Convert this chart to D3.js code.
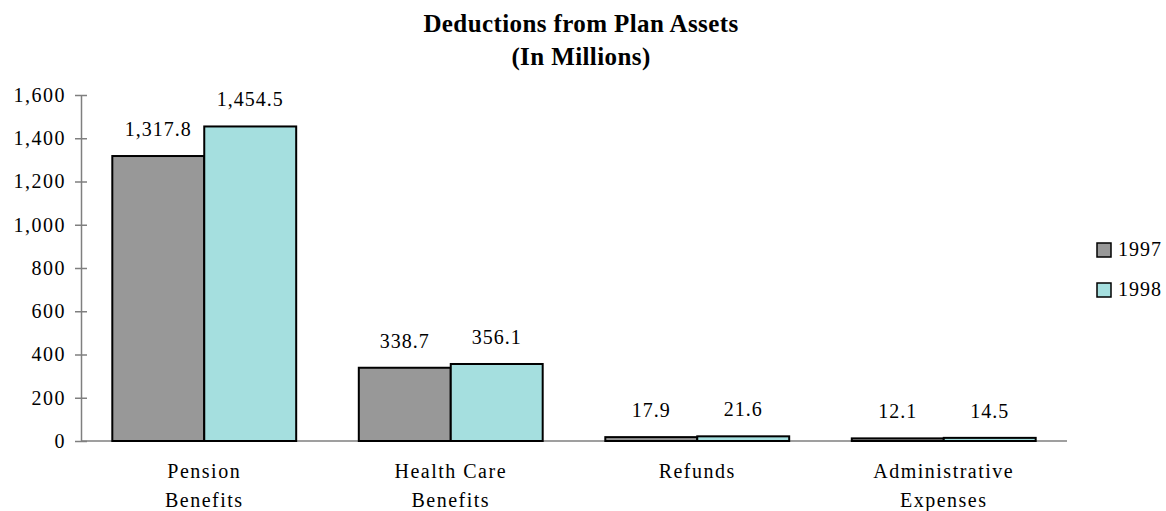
<!DOCTYPE html>
<html>
<head>
<meta charset="utf-8">
<script src="https://cdn.jsdelivr.net/npm/d3@7"></script>
<style>
  html, body { margin: 0; padding: 0; background: #ffffff; }
  svg { display: block; }
  svg text { font-family: "Liberation Serif", "Times New Roman", Times, serif; fill: #000; }
</style>
</head>
<body>
<svg id="chart" width="1166" height="511"></svg>
<script>
// Deductions from plan assets, in millions of dollars
const categories = [["Pension", "Benefits"], ["Health Care", "Benefits"], ["Refunds"], ["Administrative", "Expenses"]];
const seriesNames = ["1997", "1998"];
const values1997 = [1317.8, 338.7, 17.9, 12.1];
const values1998 = [1454.5, 356.1, 21.6, 14.5];
const valueLabels1997 = ["1,317.8", "338.7", "17.9", "12.1"];
const valueLabels1998 = ["1,454.5", "356.1", "21.6", "14.5"];
const yTicks = [0, 200, 400, 600, 800, 1000, 1200, 1400, 1600];

const serif = "'Liberation Serif', 'Times New Roman', Times, serif";
const colors = { "1997": "#989898", "1998": "#a5dfdf" };
const axisColor = "#7f7f7f";

const svg = d3.select("#chart");
const plot = { left: 81, right: 1067, top: 95, bottom: 441 };

const catKeys = categories.map((c, i) => i);
const x = d3.scaleBand().domain(catKeys).range([plot.left, plot.right]).paddingInner(0.254).paddingOuter(0.127);
const xSub = d3.scaleBand().domain(seriesNames).range([0, x.bandwidth()]);
const y = d3.scaleLinear().domain([0, 1600]).range([plot.bottom, plot.top]);

// Title
const title = svg.append("text")
  .attr("text-anchor", "middle")
  .attr("font-family", serif)
  .style("font-size", "25px").style("font-weight", "bold").style("letter-spacing", "0.4px");
title.append("tspan").attr("x", 581).attr("y", 32).text("Deductions from Plan Assets");
title.append("tspan").attr("x", 581).attr("y", 65).text("(In Millions)");

// Y axis with ticks crossing the axis line
const yAxis = d3.axisLeft(y).tickValues(yTicks).tickSizeOuter(0).tickPadding(10)
  .tickFormat(d3.format(","));
const yg = svg.append("g").attr("transform", `translate(${plot.left},0)`).call(yAxis)
  .attr("font-family", serif);
yg.select(".domain").attr("stroke", axisColor).attr("stroke-width", 1.5);
yg.selectAll(".tick line").attr("x1", -6).attr("x2", 6).attr("stroke", axisColor).attr("stroke-width", 1.5);
yg.selectAll(".tick text")
  .attr("x", -15)
  .attr("font-family", serif)
  .style("font-size", "20px").style("letter-spacing", "1.5px").attr("fill", "#000");

// X axis baseline
svg.append("line")
  .attr("x1", plot.left).attr("x2", plot.right)
  .attr("y1", y(0)).attr("y2", y(0))
  .attr("stroke", axisColor).attr("stroke-width", 1.5);

// Bars
const rows = catKeys.map(i => ({
  i,
  bars: [
    { s: "1997", v: values1997[i], label: valueLabels1997[i] },
    { s: "1998", v: values1998[i], label: valueLabels1998[i] }
  ]
}));

const groups = svg.append("g").selectAll("g.cat").data(rows).join("g")
  .attr("class", "cat")
  .attr("transform", d => `translate(${x(d.i)},0)`);

groups.selectAll("rect").data(d => d.bars).join("rect")
  .attr("x", d => xSub(d.s))
  .attr("width", xSub.bandwidth())
  .attr("y", d => y(d.v))
  .attr("height", d => y(0) - y(d.v))
  .attr("fill", d => colors[d.s])
  .attr("stroke", "#000").attr("stroke-width", 2);

groups.selectAll("text.val").data(d => d.bars).join("text")
  .attr("class", "val")
  .attr("x", d => xSub(d.s) + xSub.bandwidth() / 2)
  .attr("y", d => y(d.v) - 20)
  .attr("text-anchor", "middle")
  .attr("font-family", serif)
  .style("font-size", "20px").style("letter-spacing", "1px")
  .text(d => d.label);

// Category labels
const catLabels = svg.append("g").selectAll("text").data(rows).join("text")
  .attr("text-anchor", "middle")
  .attr("font-family", serif)
  .style("font-size", "20px").style("letter-spacing", "1.5px");
catLabels.each(function(d) {
  const t = d3.select(this);
  const cx = x(d.i) + x.bandwidth() / 2;
  categories[d.i].forEach((line, k) => {
    t.append("tspan").attr("x", cx).attr("y", 478 + k * 29).text(line);
  });
});

// Legend
const legend = svg.append("g").selectAll("g").data(seriesNames).join("g")
  .attr("transform", (d, k) => `translate(1097,${243 + k * 40})`);
legend.append("rect").attr("width", 14).attr("height", 14)
  .attr("fill", d => colors[d]).attr("stroke", "#000").attr("stroke-width", 1.5);
legend.append("text").attr("x", 21).attr("y", 13)
  .attr("font-family", serif)
  .style("font-size", "20px").style("letter-spacing", "1px")
  .text(d => d);
</script>
</body>
</html>
